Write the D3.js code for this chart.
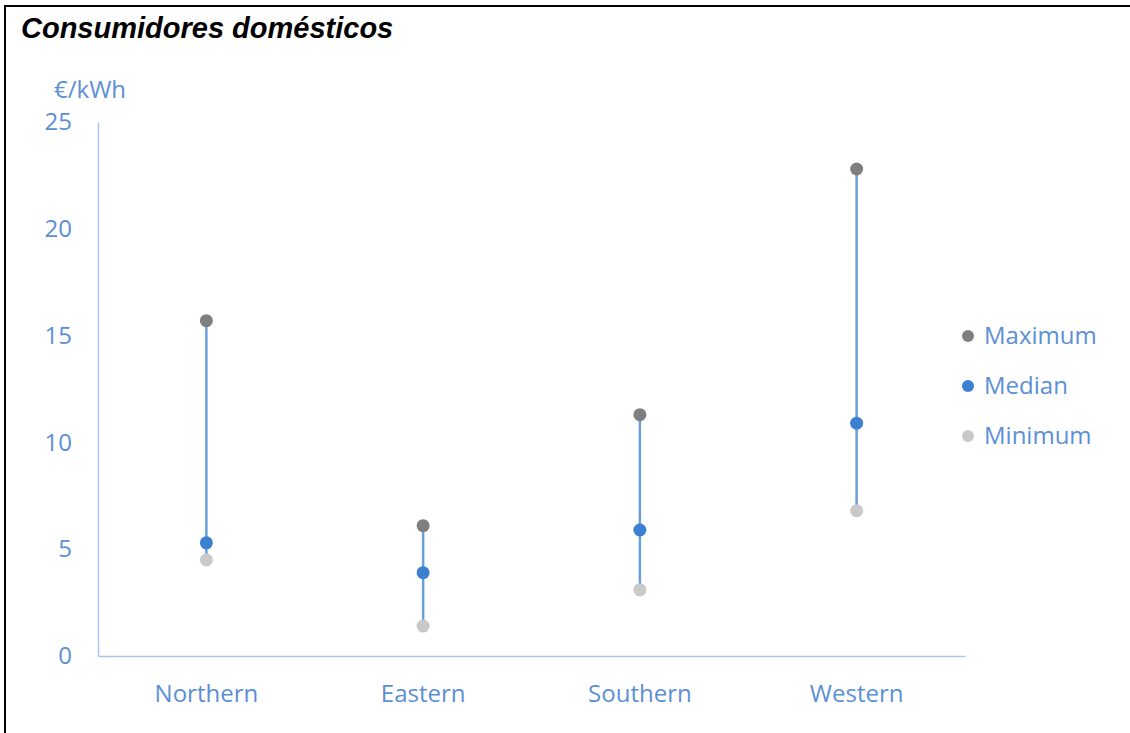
<!DOCTYPE html>
<html>
<head>
<meta charset="utf-8">
<script src="https://cdn.jsdelivr.net/npm/d3@7"></script>
<style>
  html, body { margin: 0; padding: 0; background: #fff; }
  svg { display: block; }
</style>
</head>
<body>
<svg id="chart" width="1130" height="733"></svg>
<script>
// Household electricity prices by region (€/kWh)
const regions = ["Northern", "Eastern", "Southern", "Western"];
const maximum = [15.7, 6.1, 11.3, 22.8];
const median  = [5.3, 3.9, 5.9, 10.9];
const minimum = [4.5, 1.4, 3.1, 6.8];
const yTicks  = [0, 5, 10, 15, 20, 25];
const seriesNames = ["Maximum", "Median", "Minimum"];

const W = 1130, H = 733;
const svg = d3.select("#chart");
const labelColor = "#5b8fd6";
const axisColor = "#aac6ec";
const seriesColors = { Maximum: "#7f7f7f", Median: "#3c80d0", Minimum: "#c9c9c9" };
const font = "'Open Sans', 'Noto Sans', sans-serif";
const fontSize = 24;

// Frame (open on the right and bottom edges)
svg.append("path")
  .attr("d", `M5,${H + 10} V6 H${W + 10}`)
  .attr("fill", "none").attr("stroke", "#000").attr("stroke-width", 2);

// Title
svg.append("text")
  .attr("x", 21).attr("y", 38)
  .attr("font-family", "'Liberation Sans', Arial, sans-serif")
  .attr("font-weight", "bold").attr("font-style", "italic")
  .attr("font-size", 29)
  .attr("fill", "#000")
  .text("Consumidores domésticos");

// Scales
const x = d3.scaleBand().domain(regions).range([98, 965]).paddingInner(0).paddingOuter(0);
const y = d3.scaleLinear().domain([0, 25]).range([656, 122]);

// Y axis
const yAxis = svg.append("g")
  .attr("transform", "translate(98,0)")
  .call(d3.axisLeft(y).tickValues(yTicks).tickSize(0).tickPadding(26));
yAxis.select(".domain").attr("stroke", axisColor).attr("stroke-width", 1.5);
yAxis.selectAll("text")
  .attr("font-family", font).attr("font-size", fontSize).attr("fill", labelColor);

// X axis
const xAxis = svg.append("g")
  .attr("transform", "translate(0,656)")
  .call(d3.axisBottom(x).tickSize(0).tickPadding(29));
xAxis.select(".domain").attr("stroke", axisColor).attr("stroke-width", 1.5);
xAxis.selectAll("text")
  .attr("font-family", font).attr("font-size", fontSize).attr("fill", labelColor);

// Unit label
svg.append("text")
  .attr("x", 54).attr("y", 98)
  .attr("font-family", font).attr("font-size", fontSize)
  .attr("fill", labelColor)
  .text("€/kWh");

// Range lines from minimum to maximum
const rows = regions.map((r, i) => ({ region: r, Maximum: maximum[i], Median: median[i], Minimum: minimum[i] }));
const cx = d => x(d.region) + x.bandwidth() / 2;

svg.append("g").selectAll("line")
  .data(rows).join("line")
  .attr("x1", cx).attr("x2", cx)
  .attr("y1", d => y(d.Minimum)).attr("y2", d => y(d.Maximum))
  .attr("stroke", "#6a9fdc").attr("stroke-width", 2.5);

// Points
seriesNames.slice().reverse().forEach(s => {
  svg.append("g").selectAll("circle")
    .data(rows).join("circle")
    .attr("cx", cx).attr("cy", d => y(d[s]))
    .attr("r", 6.5)
    .attr("fill", seriesColors[s]);
});

// Legend
const legend = svg.append("g").attr("transform", "translate(968,336)");
seriesNames.forEach((s, i) => {
  const g = legend.append("g").attr("transform", `translate(0,${i * 50})`);
  g.append("circle").attr("r", 6).attr("fill", seriesColors[s]);
  g.append("text")
    .attr("x", 16).attr("dy", "0.35em")
    .attr("font-family", font).attr("font-size", fontSize)
    .attr("fill", labelColor)
    .text(s);
});
</script>
</body>
</html>
